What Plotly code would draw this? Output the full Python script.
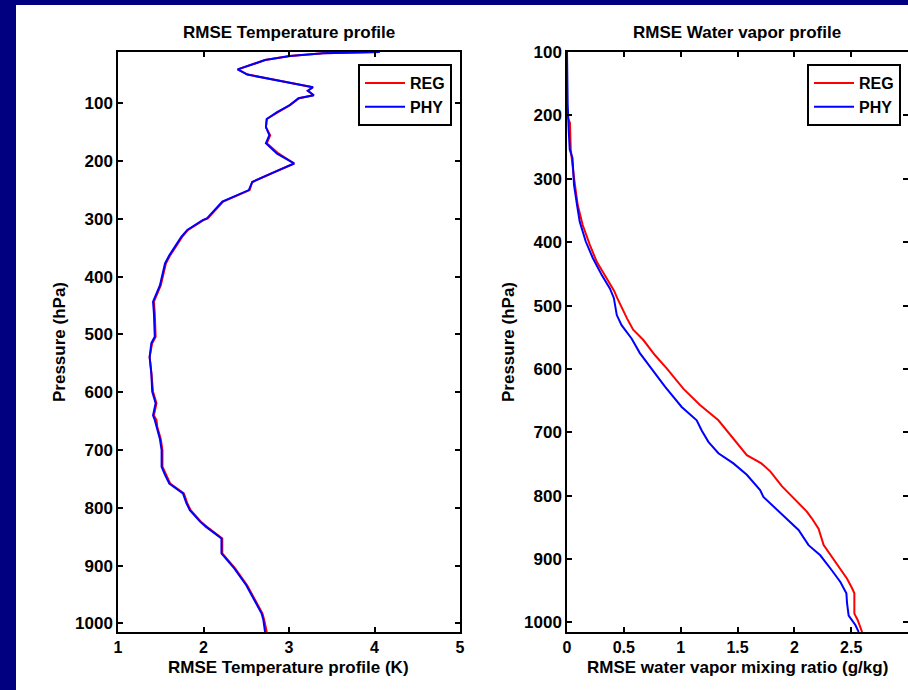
import plotly.graph_objects as go

# ---- Left panel: RMSE temperature profile ----
t_pres = [11, 13, 18, 25, 41, 50, 72, 78, 86, 91, 103, 115, 127, 141, 155, 169, 187, 204,
          218, 236, 250, 270, 299, 302, 319, 331, 363, 377, 415, 443, 463, 504, 515, 539,
          567, 599, 619, 640, 648, 660, 681, 700, 729, 743, 758, 775, 792, 804, 824, 833,
          853, 879, 905, 934, 960, 983, 994, 1015]
t_phy = [4.06, 3.40, 3.01, 2.72, 2.40, 2.51, 3.28, 3.22, 3.29, 3.11, 3.01, 2.86, 2.74, 2.73,
         2.77, 2.73, 2.86, 3.06, 2.84, 2.57, 2.53, 2.22, 2.04, 1.99, 1.81, 1.74, 1.60, 1.55,
         1.49, 1.41, 1.42, 1.43, 1.39, 1.37, 1.39, 1.40, 1.44, 1.41, 1.43, 1.45, 1.49, 1.51,
         1.51, 1.55, 1.60, 1.76, 1.80, 1.84, 1.96, 2.03, 2.21, 2.21, 2.36, 2.50, 2.60, 2.68,
         2.70, 2.72]
t_reg = [4.06, 3.40, 3.01, 2.72, 2.40, 2.52, 3.28, 3.22, 3.29, 3.12, 3.01, 2.87, 2.74, 2.73,
         2.78, 2.74, 2.88, 3.06, 2.85, 2.57, 2.54, 2.23, 2.05, 2.00, 1.82, 1.75, 1.61, 1.56,
         1.50, 1.42, 1.43, 1.44, 1.40, 1.37, 1.39, 1.41, 1.45, 1.42, 1.45, 1.46, 1.50, 1.52,
         1.52, 1.56, 1.61, 1.77, 1.81, 1.85, 1.97, 2.04, 2.22, 2.22, 2.37, 2.51, 2.61, 2.69,
         2.71, 2.74]

# ---- Right panel: RMSE water vapour mixing ratio ----
q_pres_phy = [100, 175, 182, 223, 254, 267, 310, 341, 368, 399, 425, 452, 473, 488, 507, 515,
              531, 552, 575, 596, 628, 660, 681, 697, 715, 733, 749, 767, 791, 802, 831, 854,
              878, 894, 918, 936, 954, 970, 989, 1004, 1015]
q_phy = [0.0, 0.0, 0.006, 0.015, 0.024, 0.048, 0.062, 0.088, 0.112, 0.165, 0.227, 0.306,
         0.377, 0.412, 0.429, 0.438, 0.48, 0.568, 0.641, 0.729, 0.862, 1.009, 1.141, 1.185,
         1.244, 1.332, 1.464, 1.582, 1.699, 1.728, 1.905, 2.037, 2.125, 2.228, 2.331, 2.405,
         2.458, 2.464, 2.478, 2.537, 2.566]
q_pres_reg = [100, 200, 212, 254, 299, 341, 373, 404, 431, 457, 477, 488, 504, 521, 538, 554,
              578, 599, 631, 657, 681, 697, 717, 736, 749, 762, 785, 802, 825, 836, 852, 878,
              907, 931, 946, 954, 986, 996, 1015]
q_reg = [0.0, 0.0, 0.026, 0.033, 0.062, 0.094, 0.138, 0.200, 0.262, 0.350, 0.415, 0.441,
         0.482, 0.530, 0.582, 0.670, 0.773, 0.877, 1.023, 1.170, 1.332, 1.406, 1.494, 1.582,
         1.71, 1.79, 1.89, 1.98, 2.11, 2.155, 2.213, 2.258, 2.375, 2.464, 2.508, 2.528, 2.528,
         2.557, 2.596]

p_ticks = [100, 200, 300, 400, 500, 600, 700, 800, 900, 1000]
t_ticks = [1, 2, 3, 4, 5]
q_ticks = [0, 0.5, 1, 1.5, 2, 2.5, 3]
q_ticklabels = ["0", "0.5", "1", "1.5", "2", "2.5", "3"]

W, H = 908, 690
FONT = "Liberation Sans, Arial, Helvetica, sans-serif"
FS = 17
NAVY = "#000080"
RED = "#FF0000"
BLUE = "#0000FF"

fig = go.Figure()
fig.add_trace(go.Scatter(x=t_reg, y=t_pres, mode="lines", name="REG",
                         line=dict(color=RED, width=2), xaxis="x", yaxis="y", legend="legend"))
fig.add_trace(go.Scatter(x=t_phy, y=t_pres, mode="lines", name="PHY",
                         line=dict(color=BLUE, width=2), xaxis="x", yaxis="y", legend="legend"))
fig.add_trace(go.Scatter(x=q_reg, y=q_pres_reg, mode="lines", name="REG",
                         line=dict(color=RED, width=2), xaxis="x2", yaxis="y2", legend="legend2"))
fig.add_trace(go.Scatter(x=q_phy, y=q_pres_phy, mode="lines", name="PHY",
                         line=dict(color=BLUE, width=2), xaxis="x2", yaxis="y2", legend="legend2"))

L0, L1 = 118 / W, 460 / W
R0, R1 = 567 / W, 1.0
B, T = 1 - 632 / H, 1 - 52 / H

common = dict(showgrid=False, zeroline=False, showline=True, linecolor="black", linewidth=1.5,
              mirror="ticks", ticks="inside", ticklen=5, tickwidth=1.5, tickcolor="black",
              automargin=False)
xtickfont = dict(family=FONT, size=16, color="black", weight="bold")
ytickfont = dict(family=FONT, size=FS, color="black", weight="bold")
legend_common = dict(xanchor="right", yanchor="top", bgcolor="white", bordercolor="black",
                     borderwidth=2, itemwidth=40, tracegroupgap=0,
                     font=dict(family=FONT, size=16, color="black", weight="bold"))

fig.update_layout(
    template="none",
    width=W, height=H,
    margin=dict(l=0, r=0, t=0, b=0, pad=0, autoexpand=False),
    paper_bgcolor=NAVY, plot_bgcolor="white",
    font=dict(family=FONT, size=FS, color="black", weight="bold"),
    xaxis=dict(domain=[L0, L1], range=[1, 5], tickvals=t_ticks, anchor="y",
               tickfont=xtickfont, **common),
    yaxis=dict(domain=[B, T], range=[1015, 11], tickvals=p_ticks, anchor="x",
               tickfont=ytickfont, **common),
    xaxis2=dict(domain=[R0, R1], range=[0, 3], tickvals=q_ticks, ticktext=q_ticklabels,
                anchor="y2", tickfont=xtickfont, **common),
    yaxis2=dict(domain=[B, T], range=[1015, 100], tickvals=p_ticks, anchor="x2",
                tickfont=ytickfont, **common),
    legend=dict(x=452 / W, y=1 - 64 / H, **legend_common),
    legend2=dict(x=901 / W, y=1 - 64 / H, **legend_common),
    shapes=[dict(type="rect", xref="paper", yref="paper", x0=16 / W, x1=1, y0=0, y1=1 - 5 / H,
                 fillcolor="white", line=dict(width=0), layer="below")],
)

ann_font = dict(family=FONT, size=FS, color="black", weight="bold")
annotations = [
    dict(text="RMSE Temperature profile", x=289 / W, y=1 - 33 / H),
    dict(text="RMSE Water vapor profile", x=737 / W, y=1 - 33 / H),
    dict(text="RMSE Temperature profile (K)", x=288 / W, y=1 - 667 / H),
    dict(text="RMSE water vapor mixing ratio (g/kg)", x=737 / W, y=1 - 667 / H),
    dict(text="Pressure (hPa)", x=59 / W, y=1 - 342 / H, textangle=-90),
    dict(text="Pressure (hPa)", x=508 / W, y=1 - 342 / H, textangle=-90),
]
for a in annotations:
    fig.add_annotation(xref="paper", yref="paper", xanchor="center", yanchor="middle",
                       showarrow=False, font=ann_font, **a)

fig.write_html(
    "out.html",
    config={"displayModeBar": False},
    post_script="document.body.style.margin='0';document.body.style.background='%s';" % NAVY,
)
